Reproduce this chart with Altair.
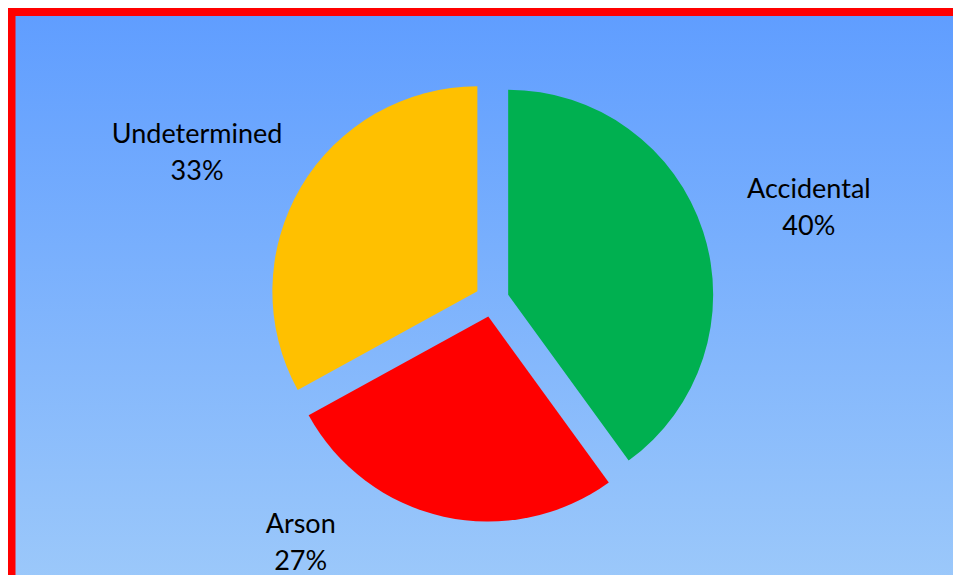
import math
import altair as alt
import pandas as pd

# ---- data ----
categories = ["Accidental", "Arson", "Undetermined"]
values = [40, 27, 33]
colors = ["#00B050", "#FF0000", "#FFC000"]

# ---- style ----
W, H = 945, 567
PIE_R = 205
EXPLODE = 17
CENTER_SHIFT = (11.5, 8.5)   # move pie centre from the plot middle
LABEL_R = 320
label_shift = {"Accidental": (24, -3), "Arson": (-110, -79), "Undetermined": (-8, 6)}

total = sum(values)
starts, ends, mids = [], [], []
acc = 0
for v in values:
    starts.append(acc)
    ends.append(acc + v)
    mids.append(acc + v / 2)
    acc += v

df = pd.DataFrame({"category": categories, "value": values,
                   "start": starts, "end": ends, "mid": mids})

theta_scale = alt.Scale(domain=[0, total], range=[0, 2 * math.pi])

gradient = alt.Gradient(
    gradient="linear",
    stops=[alt.GradientStop(color="#5F9DFF", offset=0),
           alt.GradientStop(color="#9ECAFA", offset=1)],
    x1=0, x2=0, y1=0, y2=1,
)

one = pd.DataFrame({"k": [0]})
bg = alt.Chart(one).mark_rect(fill=gradient).encode(
    x=alt.value(0), x2=alt.value(W + 30), y=alt.value(0), y2=alt.value(H + 30)
)
left_border = alt.Chart(one).mark_rule(color="#FF0000", strokeWidth=8).encode(
    x=alt.value(3.5), y=alt.value(0), y2=alt.value(H + 30)
)
top_border = alt.Chart(one).mark_rule(color="#FF0000", strokeWidth=8).encode(
    x=alt.value(0), x2=alt.value(W + 30), y=alt.value(4)
)

layers = [bg, left_border, top_border]
for cat, col, m in zip(categories, colors, mids):
    ang = m / total * 2 * math.pi
    ox = EXPLODE * math.sin(ang) + CENTER_SHIFT[0]
    oy = -EXPLODE * math.cos(ang) + CENTER_SHIFT[1]
    arc = alt.Chart(df).transform_filter(alt.datum.category == cat).mark_arc(
        radius=PIE_R, xOffset=ox, yOffset=oy, color=col
    ).encode(
        theta=alt.Theta("start:Q", scale=theta_scale),
        theta2="end:Q",
    )
    layers.append(arc)

for cat in categories:
    dx, dy = label_shift[cat]
    txt = alt.Chart(df).transform_filter(alt.datum.category == cat).transform_calculate(
        label="datum.category + '\\n' + datum.value + '%'"
    ).mark_text(
        radius=LABEL_R, dx=dx, dy=dy, font="Lato", fontSize=27,
        lineBreak="\n", lineHeight=37, align="center", baseline="middle", color="#000000"
    ).encode(
        theta=alt.Theta("mid:Q", scale=theta_scale),
        text="label:N",
    )
    layers.append(txt)

chart = alt.layer(*layers).properties(
    width=W, height=H,
    padding=0,
    autosize="none",
).configure_view(stroke=None)

chart.save("out.html", embed_options={"renderer": "svg", "actions": False})
